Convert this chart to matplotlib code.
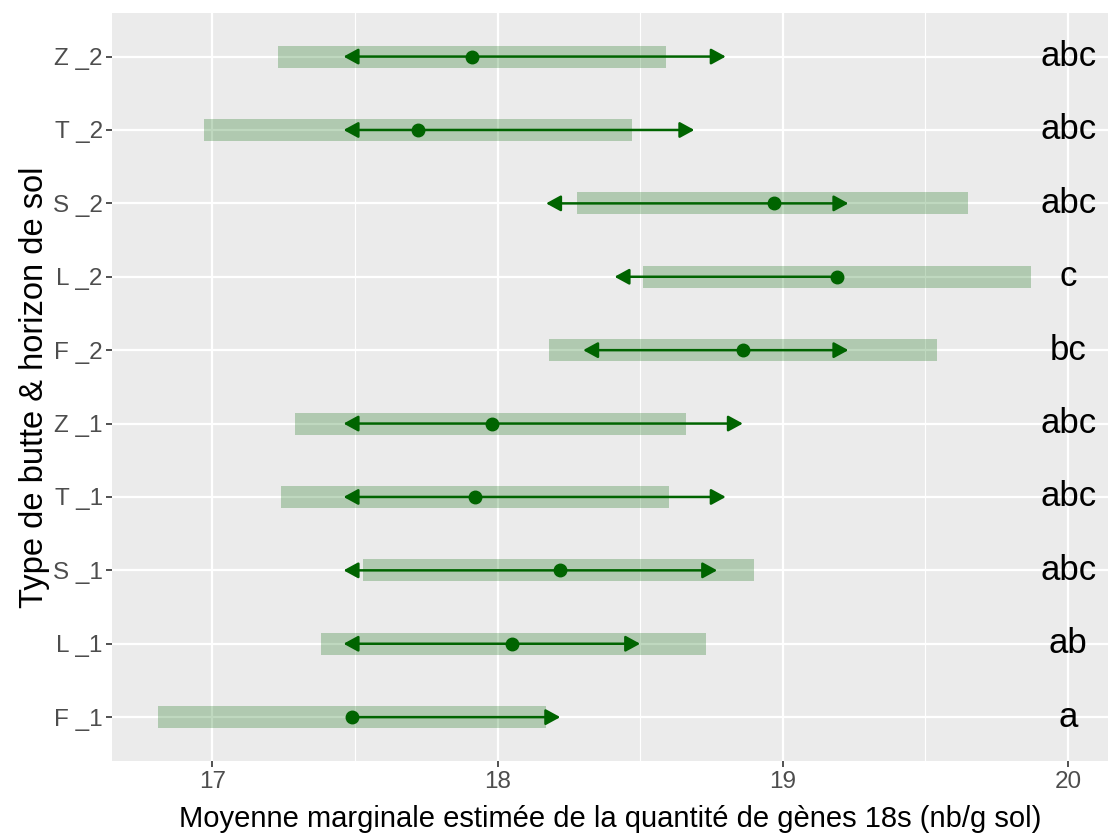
import numpy as np
import matplotlib
matplotlib.use("Agg")
import matplotlib.pyplot as plt
from matplotlib.ticker import MultipleLocator

plt.rcParams['font.family'] = ['Liberation Sans', 'DejaVu Sans']

# estimated marginal means per mound type / soil horizon
groupes = ['F _1', 'L _1', 'S _1', 'T _1', 'Z _1', 'F _2', 'L _2', 'S _2', 'T _2', 'Z _2']
emmean = [17.49, 18.05, 18.22, 17.92, 17.98, 18.86, 19.19, 18.97, 17.72, 17.91]
ic_bas = [16.81, 17.38, 17.53, 17.24, 17.29, 18.18, 18.51, 18.28, 16.97, 17.23]
ic_haut = [18.17, 18.73, 18.90, 18.60, 18.66, 19.54, 19.87, 19.65, 18.47, 18.59]
# comparison arrows (NaN = no arrow)
fleche_gauche = [np.nan, 17.46, 17.46, 17.46, 17.46, 18.30, 18.41, 18.17, 17.46, 17.46]
fleche_droite = [18.22, 18.50, 18.77, 18.80, 18.86, 19.23, np.nan, 19.23, 18.69, 18.80]
lettres = ['a', 'ab', 'abc', 'abc', 'abc', 'bc', 'c', 'abc', 'abc', 'abc']
x_lettres = 20

vert = '#006400'
y = np.arange(len(groupes))

fig = plt.figure(figsize=(11.08, 8.36), dpi=100)
ax = fig.add_axes([0.1015, 0.0895, 0.8985, 0.8955])
ax.set_facecolor('#EBEBEB')

# confidence bands
ax.barh(y, np.array(ic_haut) - np.array(ic_bas), left=ic_bas, height=0.3,
        color=vert, alpha=0.25, linewidth=0, zorder=2)

for i in range(len(groupes)):
    for bout in (fleche_gauche[i], fleche_droite[i]):
        if np.isnan(bout):
            continue
        ax.annotate('', xy=(bout, y[i]), xytext=(emmean[i], y[i]),
                    arrowprops=dict(arrowstyle='-|>,head_length=0.55,head_width=0.3',
                                    color=vert, lw=1.8, shrinkA=0, shrinkB=0,
                                    mutation_scale=16),
                    zorder=3)

ax.plot(emmean, y, 'o', color=vert, markersize=9, zorder=4)

for i, l in enumerate(lettres):
    ax.text(x_lettres, y[i], l, ha='center', va='center', fontsize=25, color='black', zorder=5)

ax.set_xlim(16.65, 20.14)
ax.set_ylim(-0.6, len(groupes) - 0.4)
ax.set_yticks(y)
ax.set_yticklabels(groupes)
ax.xaxis.set_major_locator(MultipleLocator(1))
ax.xaxis.set_minor_locator(MultipleLocator(0.5))

ax.grid(which='major', color='white', linewidth=1.6, zorder=0)
ax.grid(which='minor', axis='x', color='white', linewidth=0.8, zorder=0)
ax.set_axisbelow(True)
for s in ax.spines.values():
    s.set_visible(False)

ax.tick_params(axis='both', which='major', labelsize=17.5, labelcolor='#4D4D4D',
               color='#333333', length=4, width=1.2, pad=3)
ax.tick_params(axis='x', which='minor', length=0)

ax.set_xlabel('Moyenne marginale estimée de la quantité de gènes 18s (nb/g sol)',
              fontsize=21, labelpad=9)
ax.set_ylabel('Type de butte & horizon de sol', fontsize=23.5, labelpad=2)

fig.savefig('out.png', dpi=100)
